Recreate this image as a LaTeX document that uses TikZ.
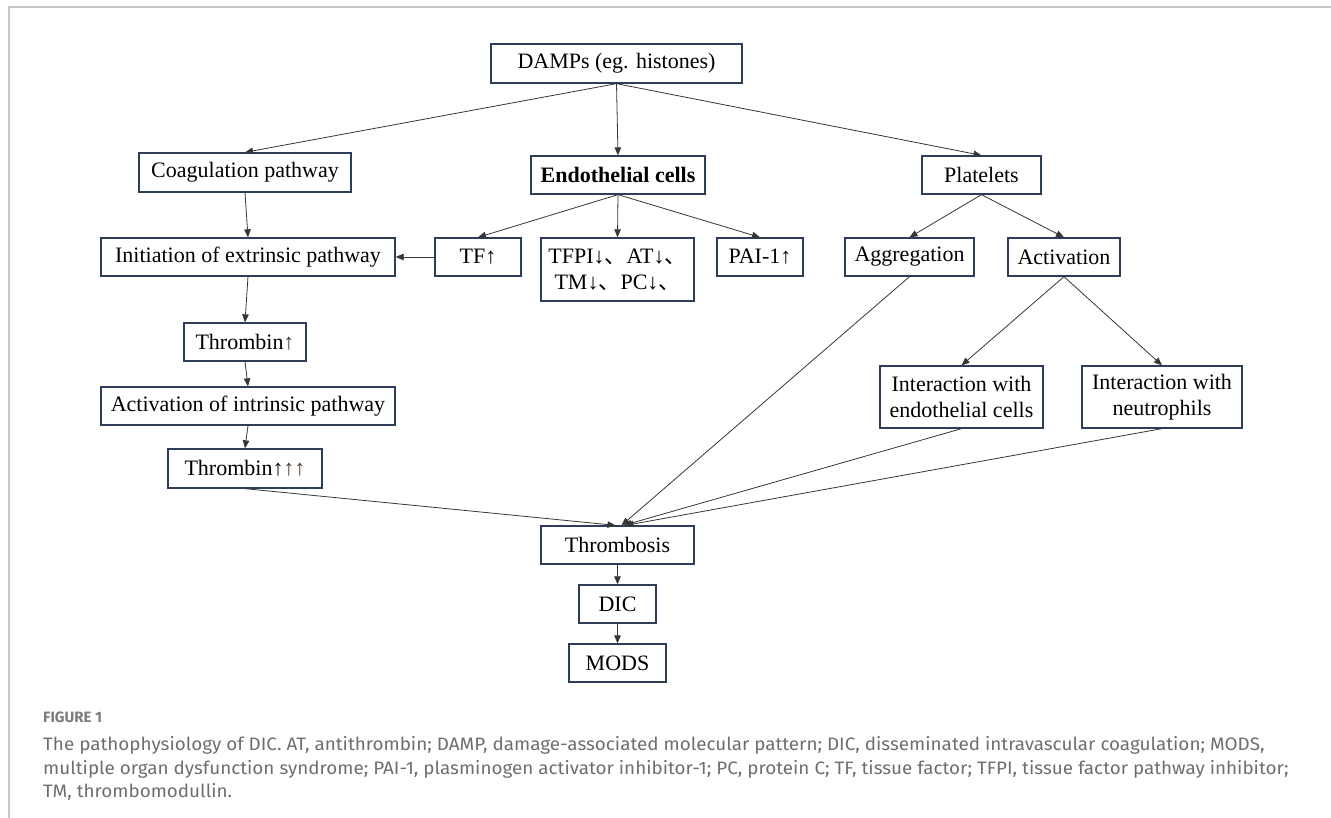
\documentclass[tikz,border=0pt]{standalone}
\usepackage{fontspec}
\setmainfont{Liberation Serif}
\newfontfamily\capfont{Fira Sans}
\newfontfamily\cjkf{Noto Sans CJK SC}
\usetikzlibrary{arrows.meta}
\definecolor{boxc}{HTML}{2E3D5A}
\definecolor{linec}{HTML}{363636}
\definecolor{framec}{HTML}{C8C8C8}
\definecolor{capc}{HTML}{6E6E6E}
\definecolor{figc}{HTML}{7C7C7C}
\definecolor{arrc}{HTML}{4A3B2C}
\newcommand{\idc}{{\cjkf 、}}
\newcommand{\up}{{\color{arrc}↑}}
\newcommand{\capline}[1]{\scalebox{1.048}[1]{#1}}
\begin{document}
\begin{tikzpicture}[x=1pt,y=-1pt,
  bx/.style={draw=boxc, line width=1.3pt, inner sep=0pt, align=center,
    font=\fontsize{22}{26}\selectfont, text=black, minimum height=38pt},
  ar/.style={draw=linec, line width=0.8pt, -{Triangle[length=8pt,width=6.5pt]}},
  captxt/.style={anchor=base west, inner sep=0pt, text=capc,
    font=\capfont\fontsize{18}{20}\selectfont}
]
\useasboundingbox (0,0) rectangle (1331,818);
\draw[framec, line width=2pt] (9,818) -- (9,7.5) -- (1331,7.5);

% nodes
\node[bx, minimum width=251pt, minimum height=39pt] (damps) at (616.5,63.5) {DAMPs (eg. histones)};
\node[bx, minimum width=212pt, minimum height=39pt] (coag) at (245,172.5) {Coagulation pathway};
\node[bx, minimum width=174pt] (endo) at (618,175) {\bfseries Endothelial cells};
\node[bx, minimum width=119pt] (plat) at (981.5,175) {Platelets};
\node[bx, minimum width=294pt] (init) at (248,257) {Initiation of extrinsic pathway};
\node[bx, minimum width=86pt] (tf) at (478,257) {TF↑};
\node[bx, minimum width=153pt, minimum height=63pt] (tfpi) at (617.5,269.5) {TFPI↓\idc AT↓\idc\\TM↓\idc PC↓\idc};
\node[bx, minimum width=86pt] (pai) at (760,257) {PAI-1↑};
\node[bx, minimum width=129pt] (aggr) at (909.5,257) {Aggregation};
\node[bx, minimum width=112pt] (activ) at (1064,257) {Activation};
\node[bx, minimum width=122pt] (thr1) at (245,342) {Thrombin\up};
\node[bx, minimum width=294pt] (intr) at (248,406) {Activation of intrinsic pathway};
\node[bx, minimum width=154pt, minimum height=39pt] (thr3) at (245,468.5) {Thrombin↑\up\up};
\node[bx, minimum width=163pt, minimum height=62pt] (ie) at (961.5,397) {Interaction with\\endothelial cells};
\node[bx, minimum width=160pt, minimum height=62pt] (in) at (1162,397) {Interaction with\\neutrophils};
\node[bx, minimum width=153pt] (thromb) at (617.5,545) {Thrombosis};
\node[bx, minimum width=77pt] (dic) at (617.5,604) {DIC};
\node[bx, minimum width=97pt] (mods) at (617.5,663) {MODS};

% connectors
\draw[ar] (damps.south) -- (coag.north);
\draw[ar] (damps.south) -- (endo.north);
\draw[ar] (damps.south) -- (plat.north);
\draw[ar] (coag.south) -- (init.north);
\draw[ar] (tf.west) -- (init.east);
\draw[ar] (endo.south) -- (tf.north);
\draw[ar] (endo.south) -- (tfpi.north);
\draw[ar] (endo.south) -- (pai.north);
\draw[ar] (plat.south) -- (aggr.north);
\draw[ar] (plat.south) -- (activ.north);
\draw[ar] (activ.south) -- (ie.north);
\draw[ar] (activ.south) -- (in.north);
\draw[ar] (init.south) -- (thr1.north);
\draw[ar] (thr1.south) -- (intr.north);
\draw[ar] (intr.south) -- (thr3.north);
\draw[ar] (thr3.south) -- ([xshift=-2pt]thromb.north);
\draw[ar] (aggr.south) -- ([xshift=4pt]thromb.north);
\draw[ar] (ie.south) -- ([xshift=6pt]thromb.north);
\draw[ar] (in.south) -- ([xshift=8pt]thromb.north);
\draw[ar] (thromb.south) -- (dic.north);
\draw[ar] (dic.south) -- (mods.north);

% caption
\node[anchor=base west, inner sep=0pt, text=figc, font=\capfont\bfseries\fontsize{15}{17}\selectfont] (fig) at (43,722.5) {FIGURE 1};
\node[captxt] (c1) at (43,750) {\capline{The pathophysiology of DIC. AT, antithrombin; DAMP, damage-associated molecular pattern; DIC, disseminated intravascular coagulation; MODS,}};
\node[captxt] (c2) at (43,774) {\capline{multiple organ dysfunction syndrome; PAI-1, plasminogen activator inhibitor-1; PC, protein C; TF, tissue factor; TFPI, tissue factor pathway inhibitor;}};
\node[captxt] (c3) at (43,797.5) {\capline{TM, thrombomodullin.}};
\end{tikzpicture}
\end{document}
